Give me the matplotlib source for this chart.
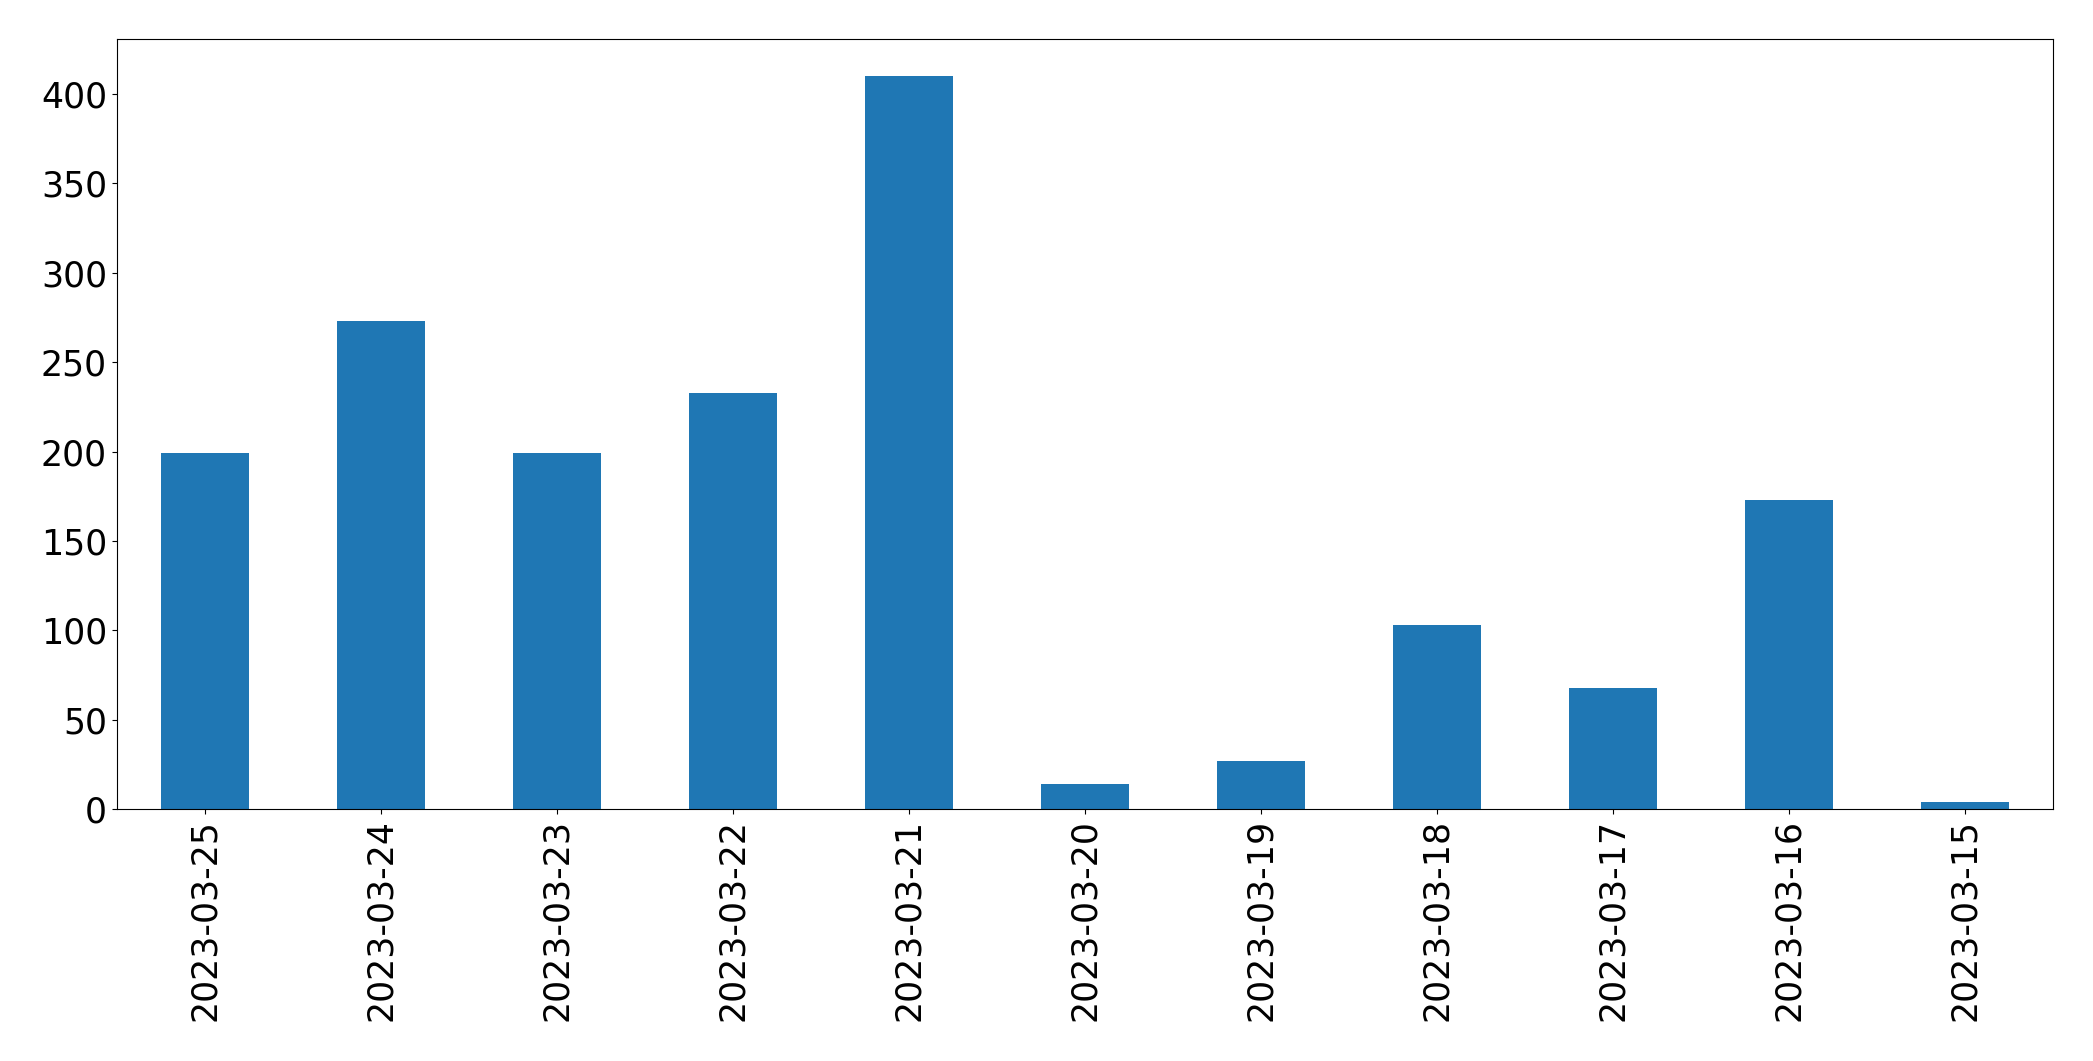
import matplotlib
matplotlib.use("Agg")
import matplotlib.pyplot as plt
import pandas as pd

dates = ["2023-03-25", "2023-03-24", "2023-03-23", "2023-03-22", "2023-03-21",
         "2023-03-20", "2023-03-19", "2023-03-18", "2023-03-17", "2023-03-16",
         "2023-03-15"]
counts = [199, 273, 199, 233, 410, 14, 27, 103, 68, 173, 4]

s = pd.Series(counts, index=dates)

fig, ax = plt.subplots(figsize=(20.93, 10.61), dpi=100)
s.plot(kind="bar", ax=ax, fontsize=25)
fig.subplots_adjust(left=0.0558, right=0.981, top=0.963, bottom=0.2372)
fig.savefig("out.png", dpi=100)
